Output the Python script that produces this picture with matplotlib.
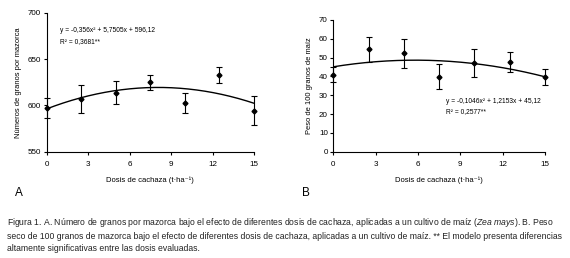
import matplotlib
matplotlib.use("Agg")
import matplotlib.pyplot as plt
import numpy as np

plt.rcParams['font.family'] = ['Liberation Sans', 'DejaVu Sans']
plt.rcParams['mathtext.fontset'] = 'custom'
plt.rcParams['mathtext.rm'] = 'Liberation Sans'
plt.rcParams['mathtext.it'] = 'Liberation Sans:italic'

doses = [0, 2.5, 5, 7.5, 10, 12.5, 15]
grains_mean = [597.4, 607.2, 613.7, 624.8, 602.4, 633.2, 594.1]
grains_err = [11, 15, 12.5, 8.5, 11, 8.7, 15.7]
weight_mean = [40.8, 54.4, 52.3, 39.9, 47.0, 47.5, 39.7]
weight_err = [4, 6.8, 7.6, 6.7, 7.4, 5.4, 4]
coef_a = [-0.356, 5.7505, 596.12]
coef_b = [-0.1046, 1.2153, 45.12]
xticks = [0, 3, 6, 9, 12, 15]

W, H = 570, 258
fig = plt.figure(figsize=(W/100, H/100), dpi=100)

def ax_at(x0, y0, x1, y1):
    return fig.add_axes([x0/W, 1 - y1/H, (x1-x0)/W, (y1-y0)/H])

fs = 5.8
def style(ax):
    for s in ['top', 'right']:
        ax.spines[s].set_visible(False)
    for s in ['left', 'bottom']:
        ax.spines[s].set_linewidth(0.8)
    ax.tick_params(direction='out', length=2.4, width=0.8, labelsize=fs)
    ax.tick_params(axis='x', pad=4.5)
    ax.tick_params(axis='y', pad=1.5)
    ax.set_xticks(xticks)
    ax.set_xlim(0, 15)

xs = np.linspace(0, 15, 200)
xlab = 'Dosis de cachaza (t·ha⁻¹)'

axA = ax_at(46.5, 12.7, 254, 151.7)
style(axA)
axA.errorbar(doses, grains_mean, yerr=grains_err, fmt='D', color='black', ms=2.5,
             ecolor='black', elinewidth=0.8, capsize=2.5, capthick=0.8, clip_on=False, zorder=3)
axA.plot(xs, np.polyval(coef_a, xs), color='black', lw=1)
axA.set_ylim(550, 700)
axA.set_yticks([550, 600, 650, 700])
axA.set_ylabel('Números de granos por mazorca', fontsize=5.4, labelpad=4)
axA.set_xlabel(xlab, fontsize=5.5, labelpad=6)
axA.text(0.065, 0.86, 'y = -0,356x² + 5,7505x + 596,12', transform=axA.transAxes, fontsize=4.8)
axA.text(0.065, 0.78, 'R² = 0,3681**', transform=axA.transAxes, fontsize=4.8)

axB = ax_at(333.3, 20, 545, 151.7)
style(axB)
axB.errorbar(doses, weight_mean, yerr=weight_err, fmt='D', color='black', ms=2.5,
             ecolor='black', elinewidth=0.8, capsize=2.5, capthick=0.8, clip_on=False, zorder=3)
axB.plot(xs, np.polyval(coef_b, xs), color='black', lw=1)
axB.set_ylim(0, 70)
axB.set_yticks(range(0, 71, 10))
axB.set_ylabel('Peso de 100 granos de maíz', fontsize=5.4, labelpad=4)
axB.set_xlabel(xlab, fontsize=5.5, labelpad=6)
axB.text(0.53, 0.37, 'y = -0,1046x² + 1,2153x + 45,12', transform=axB.transAxes, fontsize=4.8)
axB.text(0.53, 0.29, 'R² = 0,2577**', transform=axB.transAxes, fontsize=4.8)

fig.text(15/W, 1 - 196/H, 'A', fontsize=8.5, va='baseline')
fig.text(302/W, 1 - 196/H, 'B', fontsize=8.5, va='baseline')

caption = ("Figura 1. A. Número de granos por mazorca bajo el efecto de diferentes dosis de cachaza, aplicadas a un cultivo de maíz ($\\it{Zea\\ mays}$). B. Peso\n"
           "seco de 100 granos de mazorca bajo el efecto de diferentes dosis de cachaza, aplicadas a un cultivo de maíz. ** El modelo presenta diferencias\n"
           "altamente significativas entre las dosis evaluadas.")
fig.text(7/W, 1 - 216/H, caption, fontsize=6.2, va='top', linespacing=1.42, color='#222222')

fig.savefig('out.png', dpi=100)
